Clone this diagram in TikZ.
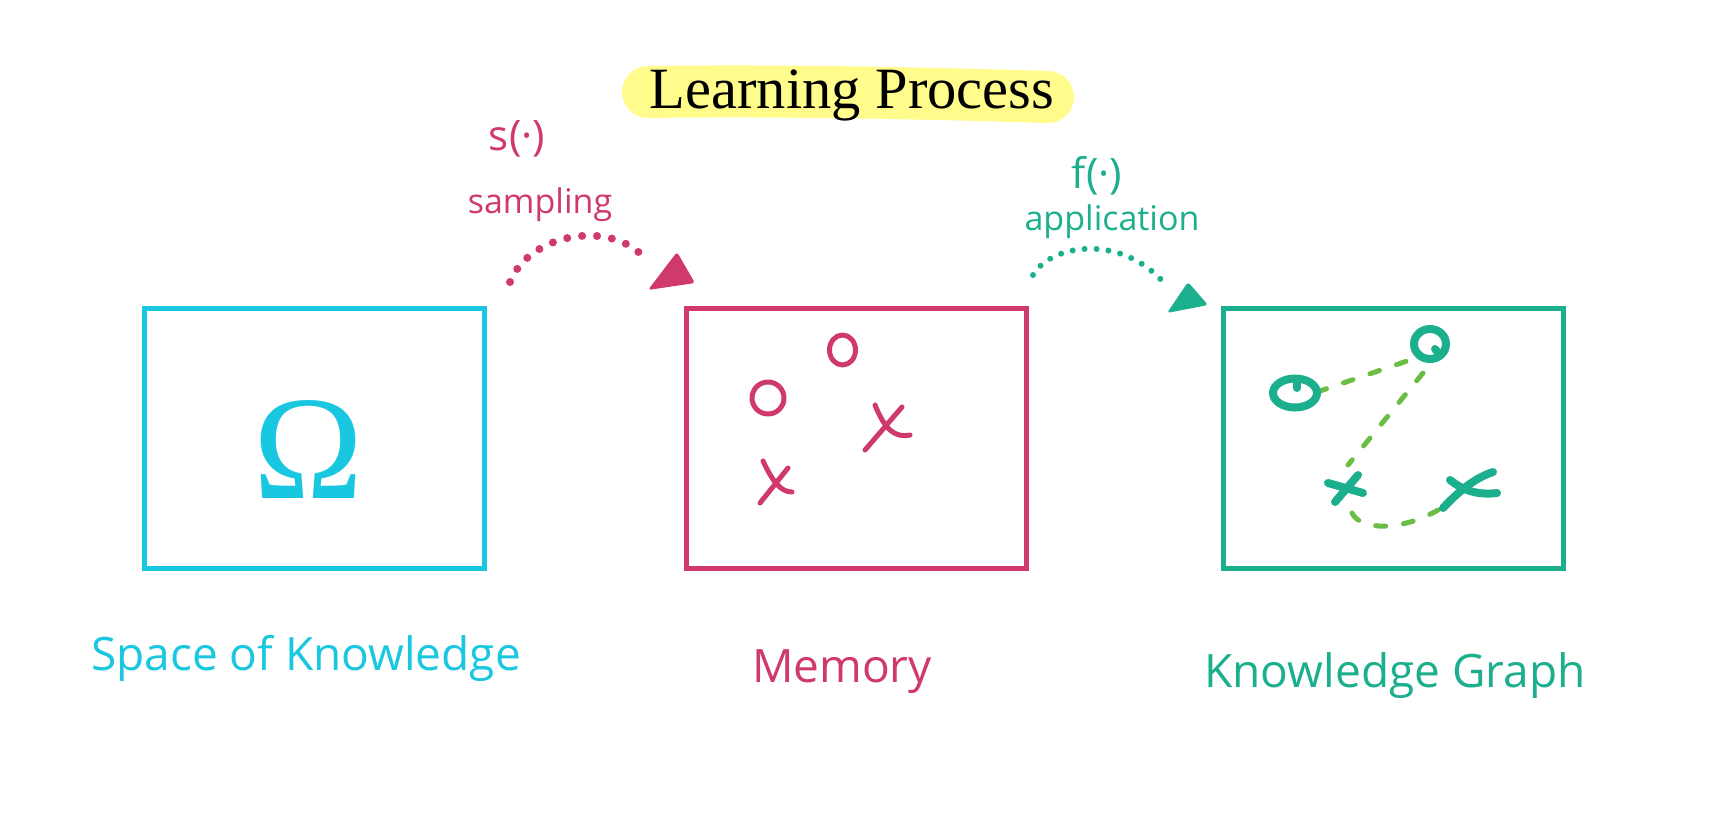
\documentclass[tikz,border=0pt]{standalone}
\usepackage{fontspec}
\setmainfont{Liberation Serif}
\newfontfamily\hand{Open Sans}
\usetikzlibrary{arrows.meta}
\definecolor{kcyan}{RGB}{26,199,224}
\definecolor{kpink}{RGB}{208,57,107}
\definecolor{kgreen}{RGB}{27,175,142}
\definecolor{klime}{RGB}{108,189,69}
\definecolor{khigh}{RGB}{255,252,140}
\tikzset{
  box/.style={draw, line width=5pt, minimum width=340pt, minimum height=260pt, inner sep=0pt},
  hw/.style={font=\hand\fontsize{46}{50}\selectfont, anchor=base, inner sep=0pt},
  hws/.style={font=\hand\fontsize{34}{38}\selectfont, anchor=base, inner sep=0pt},
  pen/.style={line width=#1, line cap=round, line join=round},
  dotline/.style={line width=#1, line cap=round, dash pattern=on 0pt off 15pt},
  gdash/.style={draw=klime, line width=5pt, line cap=round, dash pattern=on 10pt off 18pt},
}
\begin{document}
\begin{tikzpicture}[x=1pt,y=-1pt]
\useasboundingbox[fill=white] (0,0) rectangle (1713,820);
% title highlight
\draw[khigh, line width=52pt, line cap=round] (648,92) .. controls (800,90) and (950,94) .. (1048,97);
\node[anchor=base, inner sep=0pt, font=\fontsize{58.5}{60}\selectfont] (title) at (852,108) {Learning Process};
% boxes
\node[box, draw=kcyan] (b1) at (314,438) {};
\node[box, draw=kpink] (b2) at (856,438) {};
\node[box, draw=kgreen] (b3) at (1393.5,438) {};
% omega
\node[anchor=base, inner sep=0pt, text=kcyan, font=\fontsize{148}{150}\selectfont] (omega) at (308,498) {Ω};
% labels
\node[hw, text=kcyan] (l1) at (306,670) {Space of Knowledge};
\node[hw, text=kpink] (l2) at (842,682) {Memory};
\node[hw, text=kgreen] (l3) at (1395,687) {Knowledge Graph};
% sampling arrow
\coordinate (s0) at (510,282);
\coordinate (s1) at (648,262);
\draw[kpink, dotline=8pt] (s0) .. controls (530,232) and (615,218) .. (s1);
\fill[kpink, rounded corners=3pt] (677,252) -- (695,283) -- (648,290) -- cycle;
\node[hws, text=kpink, font=\hand\fontsize{42}{44}\selectfont] (sfun) at (517,150) {s(·)};
\node[hws, text=kpink] (samp) at (540,213) {sampling};
% application arrow
\coordinate (a0) at (1033,275);
\coordinate (a1) at (1165,284);
\draw[kgreen, dotline=6pt, dash pattern=on 0pt off 12pt] (a0) .. controls (1050,245) and (1120,232) .. (a1);
\fill[kgreen, rounded corners=3pt] (1188,282) -- (1208,305) -- (1167,313) -- cycle;
\node[hws, text=kgreen, font=\hand\fontsize{42}{44}\selectfont] (ffun) at (1097,188) {f(·)};
\node[hws, text=kgreen] (appl) at (1112,230) {application};
% memory marks
\draw[kpink, pen=5pt] (842.5,350) ellipse [x radius=13pt, y radius=15pt];
\draw[kpink, pen=5pt] (768,398) ellipse [x radius=16pt, y radius=16pt];
\draw[kpink, pen=5pt] (865,450) -- (902,407);
\draw[kpink, pen=5pt] (875,405) .. controls (885,430) and (895,438) .. (910,435);
\draw[kpink, pen=5pt] (760,503) -- (788,468);
\draw[kpink, pen=5pt] (763,461) .. controls (772,480) and (780,492) .. (792,492);
% knowledge graph
\coordinate (g1) at (1295,393);
\coordinate (g2) at (1430,344);
\draw[gdash] (1317,392) -- (1410,360);
\draw[gdash] (1423,373) -- (1348,465);
\draw[gdash] (1352,513) .. controls (1360,530) and (1400,532) .. (1438,510);
\draw[kgreen, pen=8pt] (g1) ellipse [x radius=22pt, y radius=14.5pt];
\draw[kgreen, pen=8pt] (1297,381) -- (1297,388);
\draw[kgreen, pen=8pt] (g2) ellipse [x radius=16pt, y radius=15pt];
\draw[kgreen, pen=8pt] (1435,349) -- (1440,355);
\draw[kgreen, pen=8pt] (1328,483) -- (1363,493);
\draw[kgreen, pen=8pt] (1335,502) -- (1358,475);
\draw[kgreen, pen=8pt] (1443,508) .. controls (1460,490) and (1475,478) .. (1493,472);
\draw[kgreen, pen=8pt] (1450,480) .. controls (1465,492) and (1480,495) .. (1497,493);
\end{tikzpicture}
\end{document}
